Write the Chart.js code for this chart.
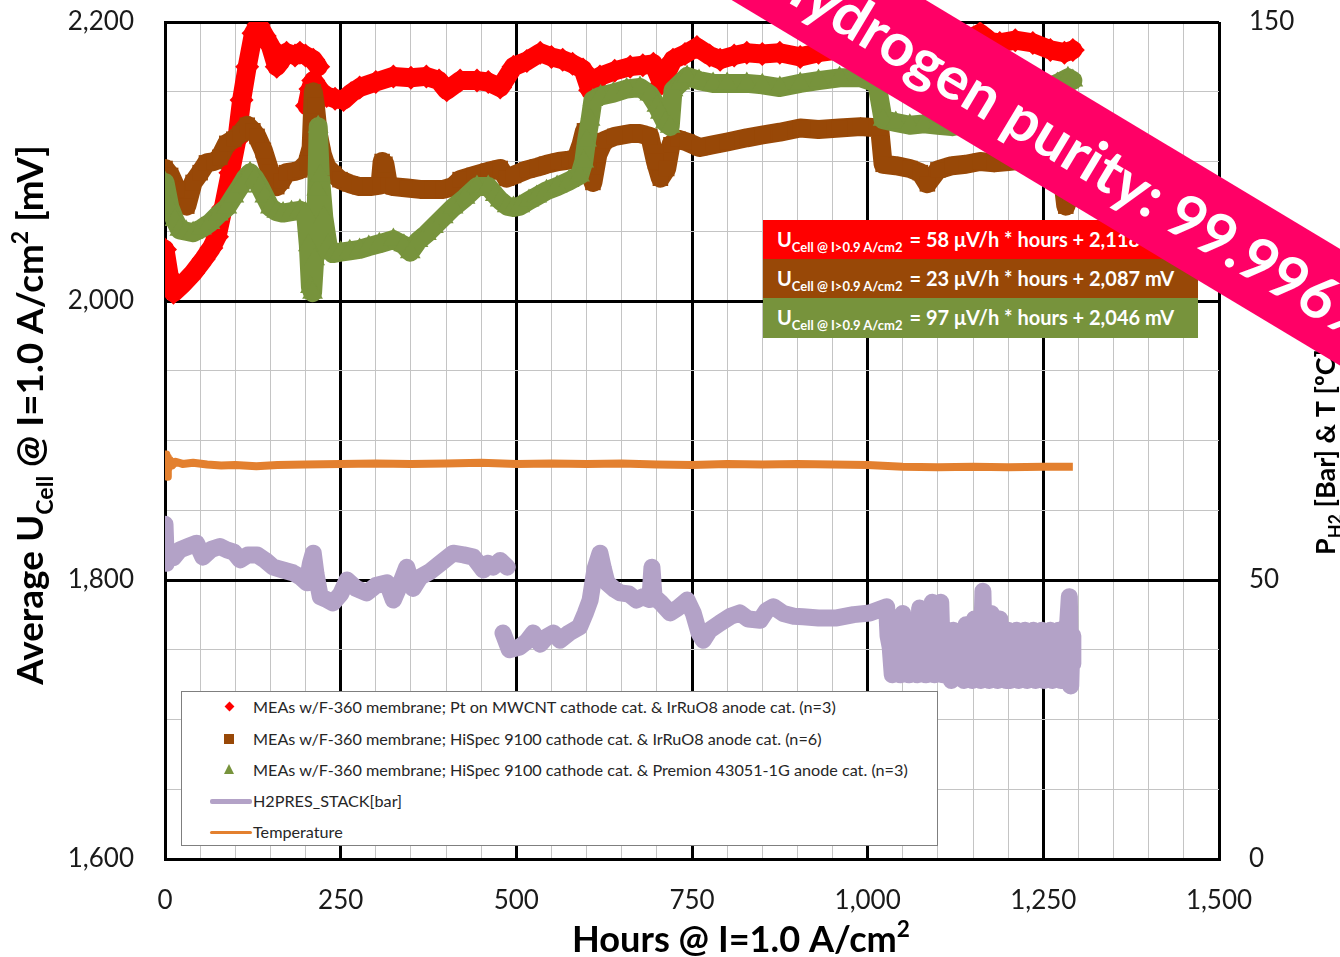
<!DOCTYPE html>
<html>
<head>
<meta charset="utf-8">
<title>Cell voltage durability</title>
<script src="https://cdn.jsdelivr.net/npm/chart.js@4.4.1/dist/chart.umd.min.js"></script>
<style>
  html, body { margin: 0; padding: 0; background: #fff; }
  #wrap { position: relative; width: 1340px; height: 957px; overflow: hidden; font-family: Lato, "Liberation Sans", sans-serif; }
  #chart { position: absolute; left: 0; top: 0; }
  #legend { position: absolute; left: 181px; top: 691px; width: 755px; height: 153px; background: #fff; border: 1px solid #7f7f7f; }
  .lg-row { position: absolute; left: 0; height: 20px; font-size: 16.2px; color: #262626; line-height: 20px; white-space: nowrap; }
  .lg-row span.txt { position: absolute; left: 71px; top: 0; }
  .lg-mark { position: absolute; }
  #eq { position: absolute; left: 763px; top: 220px; width: 435px; }
  .eq-row { height: 39px; color: #fff; font-weight: bold; font-size: 20px; line-height: 39px; padding-left: 14px; white-space: nowrap; box-sizing: border-box; }
  .eq-row sub { font-size: 13px; vertical-align: -5px; margin-right: 7px; }
  #banner { position: absolute; left: 1075px; top: 148px; width: 1500px; height: 100px; margin-left: -750px; margin-top: -50px;
            transform: rotate(31deg); background: #ff0066; color: #fff; text-align: center; line-height: 100px;
            font-family: Lato, "Open Sans", sans-serif; font-weight: 700; font-size: 60px; white-space: nowrap; }
</style>
</head>
<body>
<div id="wrap">
  <canvas id="chart" width="1340" height="957"></canvas>
  <div id="legend"></div>
  <div id="eq"></div>
  <div id="banner">Hydrogen purity: 99.996%</div>
</div>
<script>
// ---- Series data (hours, mV on the left axis; bar / °C on the right axis) ----
const redHours = [0, 6, 12, 25, 40, 55, 66, 74, 83, 93, 102, 109, 117, 126, 133, 142, 150, 159, 166, 173, 185, 192, 200, 211, 218,
  218,
  202, 207, 211, 222, 230, 242, 254, 265, 277, 300, 325, 350, 372, 390, 401, 420, 444, 460, 477, 496, 515, 534, 550, 566, 580,
  595, 605, 619, 640, 662, 680, 695, 707, 723, 740, 757, 775, 790, 810, 828, 850, 875, 904, 930, 960, 990, 1020, 1050, 1080,
  1110, 1140, 1160, 1175, 1188, 1210, 1235, 1260, 1280, 1292];
const redValues = [2037, 2018, 2006, 2012, 2020, 2030, 2038, 2046, 2067, 2092, 2115, 2144, 2168, 2192, 2198, 2190, 2183, 2168, 2173, 2178, 2176, 2178, 2176, 2173, 2168,
  null,
  2140, 2152, 2158, 2150, 2147, 2145, 2144, 2149, 2153, 2157, 2161, 2160, 2161, 2158, 2151, 2158, 2158, 2157, 2153, 2168, 2172, 2178, 2175, 2173, 2170,
  2166, 2151, 2161, 2165, 2168, 2169, 2170, 2156, 2173, 2177, 2182, 2176, 2173, 2176, 2178, 2177, 2178, 2175, 2178, 2180, 2182, 2183, 2184, 2185,
  2186, 2187, 2192, 2186, 2185, 2187, 2185, 2180, 2178, 2180];

const brownHours = [0, 8, 17, 31, 40, 50, 59, 70, 78, 88, 98, 107, 117, 125, 131, 140, 150, 159, 166, 173, 185, 192, 202, 208, 211, 214,
  218, 224, 230, 240, 249, 263, 277, 292, 306, 309, 313, 318, 325, 345, 363, 380, 396, 410, 420, 440, 460, 477, 486, 496, 515,
  530, 543, 560, 575, 585, 592, 597, 603, 609, 616, 625, 640, 662, 676, 690, 698, 705, 714, 720, 730, 743, 761, 780, 800, 828,
  850, 875, 904, 930, 960, 990, 1017, 1022, 1040, 1060, 1075, 1085, 1100, 1120, 1140, 1160, 1180, 1200, 1220, 1240, 1260, 1275,
  1282, 1288, 1292];
const brownValues = [2095, 2090, 2080, 2068, 2085, 2092, 2099, 2100, 2103, 2113, 2116, 2120, 2126, 2122, 2118, 2108, 2092, 2082, 2086, 2092, 2093, 2094, 2099, 2110, 2150, 2140,
  2120, 2105, 2096, 2091, 2087, 2084, 2082, 2082, 2083, 2100, 2098, 2083, 2082, 2081, 2080, 2080, 2080, 2082, 2087, 2090, 2093, 2095, 2088, 2090, 2094,
  2096, 2098, 2100, 2101, 2102, 2112, 2122, 2100, 2085, 2105, 2115, 2118, 2120, 2120, 2118, 2100, 2088, 2095, 2112, 2116, 2114, 2110, 2112, 2114, 2117,
  2119, 2121, 2124, 2123, 2124, 2125, 2124, 2098, 2097, 2095, 2092, 2084, 2094, 2097, 2098, 2100, 2099, 2100, 2101, 2102, 2100, 2098,
  2068, 2076, 2088];

const greenHours = [0, 7, 14, 21, 30, 40, 52, 64, 76, 88, 98, 107, 114, 121, 128, 135, 142, 150, 159, 168, 180, 192, 200, 204, 207,
  210, 213, 216, 218, 221, 226, 232, 239, 250, 263, 277, 290, 305, 325, 340, 349, 360, 372, 382, 396, 410, 427, 444, 460, 470,
  477, 487, 496, 505, 518, 529, 543, 558, 575, 590, 596, 600, 605, 609, 620, 638, 657, 676, 690, 700, 705, 712, 719, 723, 733,
  743, 760, 780, 800, 828, 850, 875, 904, 930, 960, 990, 1013, 1022, 1040, 1060, 1080, 1100, 1120, 1140, 1160, 1188, 1210, 1230,
  1250, 1270, 1285, 1292];
const greenValues = [2085, 2067, 2058, 2051, 2050, 2049, 2052, 2056, 2062, 2067, 2075, 2082, 2088, 2092, 2088, 2082, 2075, 2067, 2064, 2063, 2064, 2065, 2063, 2040, 2010,
  2006, 2030, 2080, 2125, 2090, 2060, 2040, 2034, 2035, 2036, 2037, 2039, 2041, 2044, 2040, 2035, 2043, 2048, 2053, 2060, 2067, 2074, 2082, 2082, 2076,
  2072, 2068, 2067, 2068, 2072, 2075, 2079, 2082, 2086, 2090, 2100, 2115, 2130, 2144, 2147, 2149, 2152, 2153, 2148, 2140, 2135, 2128, 2125, 2151, 2156,
  2161, 2158, 2156, 2156, 2156, 2155, 2153, 2156, 2158, 2160, 2160, 2156, 2130, 2128, 2126, 2127, 2126, 2125, 2127, 2128, 2130, 2135, 2145,
  2152, 2156, 2160, 2158];

const pressHours = [0, 2, 6, 12, 21, 33, 45, 54, 66, 78, 88, 98, 107, 118, 131, 143, 154, 168, 182, 193, 202, 207, 211, 215, 221,
  230, 239, 250, 259, 272, 287, 300, 316, 325, 334, 344, 353, 363, 377, 392, 410, 425, 439, 453, 460, 467, 477, 487,
  487,
  481, 490, 505, 515, 524, 534, 543, 553, 562, 575, 590, 598, 605, 612, 619, 624, 629, 640, 648, 660, 671, 680, 690, 693, 696,
  705, 719, 730, 743, 752, 760, 766, 775, 790, 805, 818, 830, 847, 856, 866, 880, 895, 908, 930, 956, 980, 1003, 1027, 1029,
  1032, 1035, 1038, 1041, 1044, 1047, 1050, 1053, 1056, 1059, 1062, 1065, 1068, 1071, 1074, 1077, 1080, 1083, 1086, 1089,
  1092, 1095, 1098, 1101, 1104, 1107, 1110, 1113, 1116, 1119, 1122, 1125, 1128, 1131, 1134, 1137, 1140, 1143, 1146, 1149,
  1152, 1155, 1158, 1161, 1164, 1167, 1170, 1173, 1176, 1179, 1182, 1185, 1188, 1191, 1194, 1197, 1200, 1203, 1206, 1209,
  1212, 1215, 1218, 1221, 1224, 1227, 1230, 1233, 1236, 1239, 1242, 1245, 1248, 1251, 1254, 1257, 1260, 1263, 1266, 1269,
  1272, 1275, 1278, 1281, 1284, 1287, 1289, 1291, 1292];
const pressValues = [60, 53, 55, 54, 55.4, 56, 56.6, 54.1, 55.5, 56, 55.4, 55, 53.6, 54.5, 54.5, 53.5, 52.3, 51.8, 51.3, 50.5, 49.5, 53, 54.8, 51, 47,
  46.5, 45.9, 47.5, 50, 48.5, 47.7, 49, 49.5, 46.4, 49, 52.3, 48.5, 50.5, 51.5, 53, 54.8, 54.5, 54.1, 51.8, 53, 52.3, 53.5, 52.3,
  null,
  40.5, 37.5, 38, 39, 40.5, 38.5, 39.8, 40.5, 39.2, 40.5, 41.6, 44, 46.4, 52, 54.8, 52, 49.5, 48.3, 47.7, 47.5, 46.4, 47, 46.5, 52.3, 47,
  46, 44.1, 45, 46.4, 44, 40.5, 39.2, 41, 42.3, 43.5, 44.1, 43, 42.8, 44.5, 45.2, 44, 43.5, 43.4, 43.2, 43.2, 43.8, 44.1, 45.2, 40,
  38, 33, 41, 34, 40, 33, 44, 34, 41, 33, 40, 34, 41, 33, 45, 34, 41, 33, 40, 34,
  46, 33, 42, 34, 46, 33, 41, 34, 40, 32, 41, 34, 40, 33, 41, 32, 42, 33, 40, 32,
  43, 33, 41, 32, 48, 33, 41, 32, 44, 33, 40, 32, 43, 33, 40, 32, 41, 32, 40, 33,
  41, 32, 40, 33, 41, 32, 40, 33, 41, 32, 40, 33, 41, 32, 40, 33, 41, 32, 40, 33,
  41, 32, 40, 33, 41, 47, 31, 40, 35];

const tempHours = [0, 1, 2, 3, 4, 5, 7, 10, 15, 25, 40, 60, 80, 100, 130, 160, 200, 250, 300, 350, 400, 450, 500, 550, 600,
  650, 700, 750, 800, 850, 900, 950, 1000, 1050, 1100, 1150, 1200, 1250, 1292];
const tempValues = [71.8, 69.5, 72.5, 68.5, 72, 70, 71.5, 70.5, 71.2, 70.8, 71, 70.7, 70.5, 70.6, 70.4, 70.6, 70.7, 70.8, 70.9, 70.8, 70.9, 71, 70.8, 70.9, 70.8,
  70.9, 70.7, 70.6, 70.8, 70.7, 70.8, 70.7, 70.6, 70.3, 70.2, 70.3, 70.2, 70.3, 70.3];

// ---- Labels ----
const seriesLabels = [
  'MEAs w/F-360 membrane; Pt on MWCNT cathode cat. & IrRuO8 anode cat. (n=3)',
  'MEAs w/F-360 membrane; HiSpec 9100 cathode cat. & IrRuO8 anode cat. (n=6)',
  'MEAs w/F-360 membrane; HiSpec 9100 cathode cat. & Premion 43051-1G anode cat. (n=3)',
  'H2PRES_STACK[bar]',
  'Temperature'
];
const fitSlopes = ['58', '23', '97'];
const fitIntercepts = ['2,118', '2,087', '2,046'];

const RED = '#ff0000', BROWN = '#984807', GREEN = '#77933c', LAVENDER = '#b3a2c7', ORANGE = '#e3802f';

const xy = (hs, vs) => hs.map((h, i) => ({ x: h, y: vs[i] }));

function markerSeries(label, hs, vs, color, style, radius, order) {
  return {
    label, data: xy(hs, vs), yAxisID: 'y', order,
    borderColor: color, backgroundColor: color, borderWidth: 19,
    borderJoinStyle: 'round', borderCapStyle: 'round',
    pointStyle: style, pointRadius: radius, pointBorderWidth: 0, pointBackgroundColor: color,
    tension: 0, spanGaps: false
  };
}

const datasets = [
  markerSeries(seriesLabels[0], redHours, redValues, RED, 'rectRot', 12, 5),
  markerSeries(seriesLabels[1], brownHours, brownValues, BROWN, 'rect', 11, 4),
  markerSeries(seriesLabels[2], greenHours, greenValues, GREEN, 'triangle', 12, 3),
  { label: seriesLabels[3], data: xy(pressHours, pressValues), yAxisID: 'y2', order: 2,
    borderColor: LAVENDER, backgroundColor: LAVENDER, borderWidth: 17, pointRadius: 0,
    borderJoinStyle: 'round', borderCapStyle: 'round', tension: 0, spanGaps: false },
  { label: seriesLabels[4], data: xy(tempHours, tempValues), yAxisID: 'y2', order: 1,
    borderColor: ORANGE, backgroundColor: ORANGE, borderWidth: 8, pointRadius: 0,
    borderJoinStyle: 'round', tension: 0 }
];

const TICK_FONT = { family: 'Lato, "Liberation Sans", sans-serif', size: 26 };
const majorEvery = (step) => (c) => (c.tick && Math.round(c.tick.value) % step === 0) ? '#000' : '#c4c4c4';
const majorWidth = (step) => (c) => (c.tick && Math.round(c.tick.value) % step === 0) ? 3 : 1;

// Axis titles with sub/superscripts, drawn centred (optionally fitted to a width)
function drawRich(ctx, parts, cx, cy, angle, targetWidth) {
  ctx.save();
  ctx.translate(cx, cy);
  ctx.rotate(angle);
  const fam = 'Lato, "Liberation Sans", sans-serif';
  const widthAt = (k) => parts.reduce((s, p) => { ctx.font = `bold ${p.s * k}px ${fam}`; return s + ctx.measureText(p.t).width; }, 0);
  let k = 1;
  if (targetWidth) k = targetWidth / widthAt(1);
  const total = widthAt(k);
  let x = -total / 2;
  const base = parts[0].s * k * 0.36;
  ctx.fillStyle = '#000';
  ctx.textBaseline = 'alphabetic';
  for (const p of parts) {
    ctx.font = `bold ${p.s * k}px ${fam}`;
    ctx.fillText(p.t, x, base + (p.dy || 0) * k);
    x += ctx.measureText(p.t).width;
  }
  ctx.restore();
}

const axisTitles = {
  id: 'axisTitles',
  afterDraw(chart) {
    const ctx = chart.ctx;
    drawRich(ctx, [{ t: 'Hours @ I=1.0 A/cm', s: 32 }, { t: '2', s: 20, dy: -13 }], 741, 939, 0, 338);
    drawRich(ctx, [{ t: 'Average U', s: 32 }, { t: 'Cell', s: 20, dy: 8 }, { t: ' @ I=1.0 A/cm', s: 32 },
                   { t: '2', s: 20, dy: -13 }, { t: ' [mV]', s: 32 }], 30, 415, -Math.PI / 2, 540);
    drawRich(ctx, [{ t: 'P', s: 27 }, { t: 'H2', s: 18, dy: 7 }, { t: ' [Bar] & T [ºC]', s: 27 }], 1325, 452, -Math.PI / 2, null);
  }
};

// keep the plot rectangle fixed: no extra room reserved for half-height edge labels
const noEdgePad = (s) => { s.paddingTop = 0; s.paddingBottom = 0; s.paddingLeft = 0; s.paddingRight = 0; };

const chart = new Chart(document.getElementById('chart'), {
  type: 'line',
  data: { datasets },
  options: {
    responsive: false, animation: false, devicePixelRatio: 1,
    layout: { padding: { top: 22, left: 0, right: 0, bottom: 0 } },
    plugins: { legend: { display: false }, tooltip: { enabled: false } },
    scales: {
      x: {
        type: 'linear', min: 0, max: 1500,
        afterFit: (s) => { s.height = 98; noEdgePad(s); },
        ticks: { stepSize: 50, autoSkip: false, maxRotation: 0, padding: 26, color: '#1a1a1a', font: TICK_FONT,
                 callback: (v) => (v % 250 === 0 ? v.toLocaleString('en-US') : '') },
        grid: { color: majorEvery(250), lineWidth: majorWidth(250), drawTicks: false },
        border: { display: true, color: '#000', width: 3 }
      },
      y: {
        type: 'linear', position: 'left', min: 1600, max: 2200,
        afterFit: (s) => { s.width = 165; noEdgePad(s); },
        ticks: { stepSize: 50, autoSkip: false, padding: 31, color: '#1a1a1a', font: TICK_FONT,
                 callback: (v) => (v % 200 === 0 ? v.toLocaleString('en-US') : '') },
        grid: { color: majorEvery(200), lineWidth: majorWidth(200), drawTicks: false },
        border: { display: true, color: '#000', width: 3 }
      },
      y2: {
        type: 'linear', position: 'right', min: 0, max: 150,
        afterFit: (s) => { s.width = 121; noEdgePad(s); },
        ticks: { stepSize: 50, padding: 30, color: '#1a1a1a', font: TICK_FONT },
        grid: { drawOnChartArea: false, drawTicks: false },
        border: { display: false }
      }
    }
  },
  plugins: [axisTitles]
});

// HTML legend built from the chart's datasets
(function buildLegend() {
  const box = document.getElementById('legend');
  const rowTops = [5, 37, 68, 99, 130];
  chart.data.datasets.forEach((ds, i) => {
    const row = document.createElement('div');
    row.className = 'lg-row';
    row.style.top = rowTops[i] + 'px';
    row.style.width = '750px';
    const mark = document.createElement('div');
    mark.className = 'lg-mark';
    if (ds.pointStyle === 'rectRot') {
      Object.assign(mark.style, { left: '44px', top: '6px', width: '7px', height: '7px', background: ds.borderColor, transform: 'rotate(45deg)' });
    } else if (ds.pointStyle === 'rect') {
      Object.assign(mark.style, { left: '42px', top: '5px', width: '10px', height: '10px', background: ds.borderColor });
    } else if (ds.pointStyle === 'triangle') {
      Object.assign(mark.style, { left: '42px', top: '4px', width: '0', height: '0', borderLeft: '5px solid transparent',
        borderRight: '5px solid transparent', borderBottom: '10px solid ' + ds.borderColor });
    } else {
      const h = ds.borderWidth > 10 ? 5 : 3;
      Object.assign(mark.style, { left: '28px', top: (10 - h / 2) + 'px', width: '42px', height: h + 'px', background: ds.borderColor, borderRadius: '2px' });
    }
    const txt = document.createElement('span');
    txt.className = 'txt';
    txt.textContent = ds.label;
    row.appendChild(mark);
    row.appendChild(txt);
    box.appendChild(row);
  });
})();

// Linear fit annotations
(function buildFits() {
  const eq = document.getElementById('eq');
  const colors = [RED, BROWN, GREEN];
  fitSlopes.forEach((m, i) => {
    const row = document.createElement('div');
    row.className = 'eq-row';
    row.style.background = colors[i];
    if (i === 2) row.style.height = '40px';
    row.innerHTML = 'U<sub>Cell @ I&gt;0.9 A/cm2</sub>= ' + m + ' μV/h * hours + ' + fitIntercepts[i] + ' mV';
    eq.appendChild(row);
  });
})();
</script>
</body>
</html>
